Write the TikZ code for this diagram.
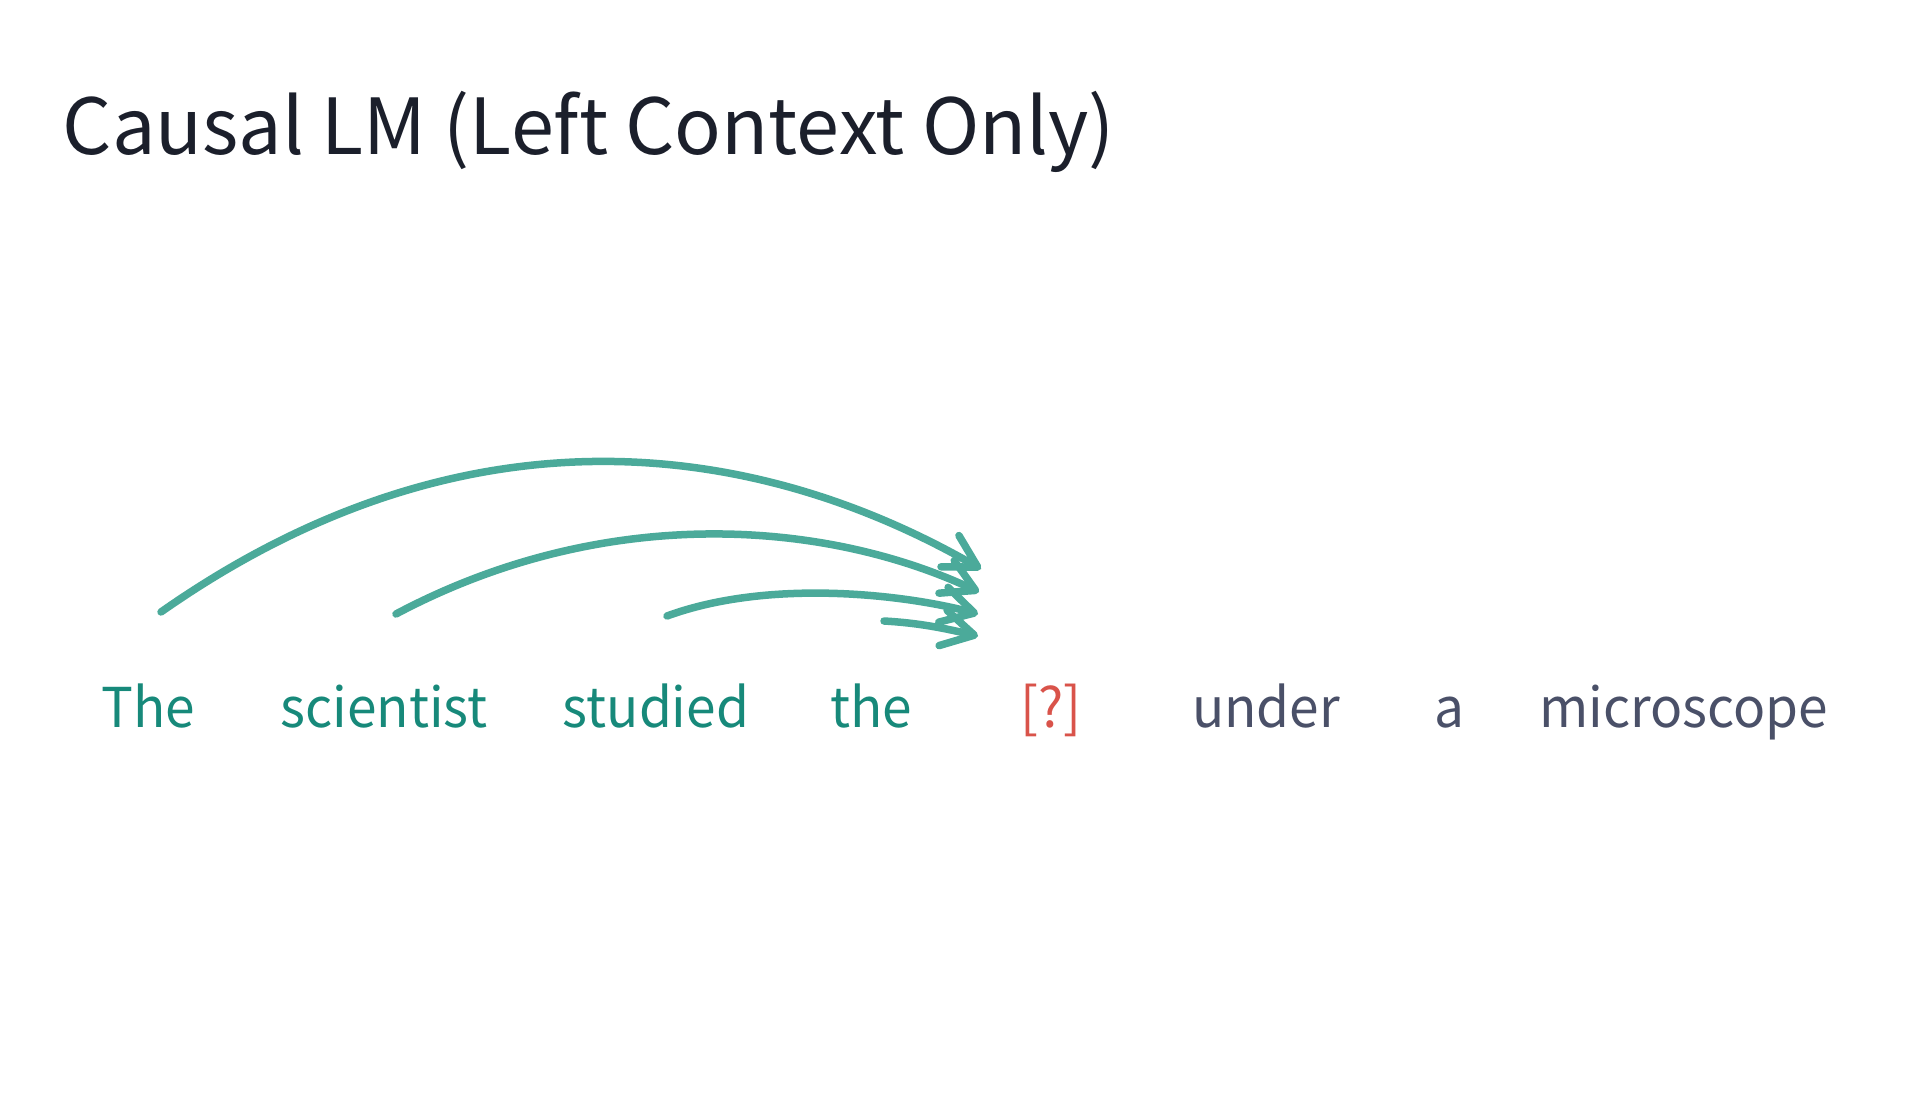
\documentclass[tikz,border=0pt]{standalone}
\usepackage{fontspec}
\setmainfont{Noto Sans CJK KR}
\newfontfamily\wordfont[FakeStretch=0.97]{Noto Sans CJK KR}
\usetikzlibrary{arrows.meta, calc, positioning}
\definecolor{titleink}{HTML}{1B1F2B}
\definecolor{ctxink}{HTML}{17897A}
\definecolor{arcink}{HTML}{4BAA9A}
\definecolor{maskink}{HTML}{D9534A}
\definecolor{restink}{HTML}{4A5068}

\begin{document}
\begin{tikzpicture}[x=0.01cm, y=-0.01cm,
        word/.style={anchor=base, inner sep=0pt, font=\wordfont\fontsize{15.6}{19}\selectfont},
        ctx/.style={word, text=ctxink},
        rest/.style={word, text=restink},
        attn/.style={arcink, line width=0.075cm, line cap=round,
            -{Straight Barb[length=0.32cm, width=0.36cm, round]}}]
    \useasboundingbox[fill=white] (0,0) rectangle (1920,1097);
    \node [anchor=base west, inner sep=0pt, text=titleink,
        font=\fontsize{22}{26}\selectfont] (title) at (62,155) {Causal LM (Left Context Only)};
    \node [ctx] (t1) at (148,727) {The};
    \node [ctx] (t2) at (384,727) {scientist};
    \node [ctx] (t3) at (656,727) {studied};
    \node [ctx] (t4) at (871,727) {the};
    \node [word, text=maskink] (m) at (1051,727) {[?]};
    \node [rest] (t6) at (1266,727) {under};
    \node [rest] (t7) at (1449,727) {a};
    \node [rest] (t8) at (1684,727) {microscope};
    \draw [attn] ($(t1.base)+(13,-115)$) .. controls +(308,-216) and +(-221,-127) .. ($(m.base)+(-70,-158)$);
    \draw [attn] ($(t2.base)+(12,-113)$) .. controls +(209,-111) and +(-154,-72) .. ($(m.base)+(-72,-135)$);
    \draw [attn] ($(t3.base)+(11,-111)$) .. controls +(104,-38) and +(-71,-19) .. ($(m.base)+(-73,-113)$);
    \draw [attn] ($(t4.base)+(13,-106)$) .. controls +(35,2) and +(-35,-8) .. ($(m.base)+(-73,-91)$);
\end{tikzpicture}
\end{document}
